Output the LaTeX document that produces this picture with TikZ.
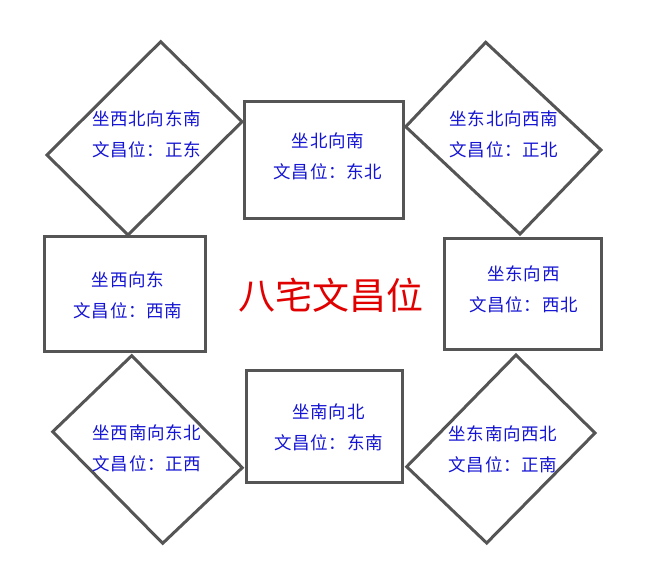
\documentclass[tikz,border=0pt]{standalone}
\usepackage{fontspec}
\newfontfamily\cjk{Noto Sans CJK SC}
\newfontfamily\cjkspaced[LetterSpace=4]{Noto Sans CJK SC}
\definecolor{edge}{RGB}{85,85,85}
\definecolor{txtblue}{RGB}{20,20,210}
\definecolor{titlered}{RGB}{225,0,0}
\tikzset{
  shapeline/.style={draw=edge,line width=3pt,line join=miter},
  boxnode/.style={shapeline,rectangle,inner sep=0pt},
  label/.style={text=txtblue,font=\cjkspaced\fontsize{17.5}{31}\selectfont,inner sep=0pt},
  leftlabel/.style={label,align=left},
  midlabel/.style={label,align=center},
  titlelabel/.style={text=titlered,font=\cjk\fontsize{37}{40}\selectfont,inner sep=0pt}
}
\begin{document}
\begin{tikzpicture}[x=1pt,y=-1pt]
\useasboundingbox (0,0) rectangle (657,563);
% diamonds
\coordinate (tlT) at (160.7,41.7); \coordinate (tlR) at (242,121.7);
\coordinate (tlB) at (128,235);    \coordinate (tlL) at (47,155);
\coordinate (trT) at (485.7,42.3); \coordinate (trR) at (601,150);
\coordinate (trB) at (520,234);    \coordinate (trL) at (405.7,126.7);
\coordinate (blT) at (131.7,355.7); \coordinate (blR) at (242.3,467.7);
\coordinate (blB) at (162.7,543.3); \coordinate (blL) at (52.7,431.7);
\coordinate (brT) at (516,355);    \coordinate (brR) at (595,433);
\coordinate (brB) at (486.7,543);  \coordinate (brL) at (406.7,466.7);
\draw[shapeline] (tlT) -- (tlR) -- (tlB) -- (tlL) -- cycle;
\draw[shapeline] (trT) -- (trR) -- (trB) -- (trL) -- cycle;
\draw[shapeline] (blT) -- (blR) -- (blB) -- (blL) -- cycle;
\draw[shapeline] (brT) -- (brR) -- (brB) -- (brL) -- cycle;
% boxes
\node[boxnode,minimum width=159pt,minimum height=116.3pt] (topbox) at (323.5,159.85) {};
\node[boxnode,minimum width=161pt,minimum height=114.3pt] (leftbox) at (124.5,293.85) {};
\node[boxnode,minimum width=156.7pt,minimum height=111pt] (rightbox) at (522.65,293.8) {};
\node[boxnode,minimum width=156.7pt,minimum height=111.6pt] (bottombox) at (324.35,426.5) {};
% texts
\node[leftlabel] (tltext) at (146.5,134.5) {坐西北向东南\\文昌位：正东};
\node[leftlabel] (trtext) at (504,134) {坐东北向西南\\文昌位：正北};
\node[leftlabel] (bltext) at (147,448.5) {坐西南向东北\\文昌位：正西};
\node[leftlabel] (brtext) at (503,449.5) {坐东南向西北\\文昌位：正南};
\node[midlabel] (toptext) at (328,156) {坐北向南\\文昌位：东北};
\node[midlabel] (lefttext) at (128,295) {坐西向东\\文昌位：西南};
\node[midlabel] (righttext) at (523.5,289.5) {坐东向西\\文昌位：西北};
\node[midlabel] (bottomtext) at (328.5,427.5) {坐南向北\\文昌位：东南};
\node[titlelabel] (title) at (331,295) {八宅文昌位};
\end{tikzpicture}
\end{document}
